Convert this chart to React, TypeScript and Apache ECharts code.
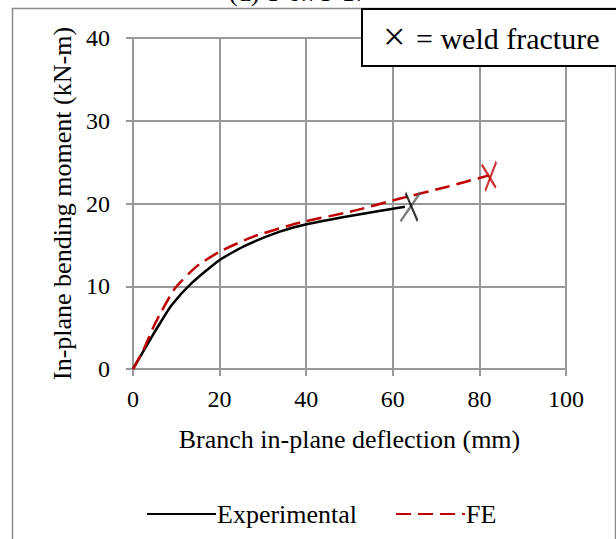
import React, { useEffect, useRef } from "react";
import * as echarts from "echarts";

// Branch in-plane deflection (mm) vs in-plane bending moment (kN-m)
const experimentalX = [0, 3.9, 6.2, 8.9, 13.6, 20.1, 26.3, 33.9, 40.1, 50.1, 62.8];
const experimentalY = [0, 3.5, 5.5, 7.7, 10.4, 13.2, 15.0, 16.6, 17.5, 18.5, 19.6];

const feX = [0, 2.4, 5.1, 9.7, 14.7, 20.1, 27.8, 38.6, 50.1, 61.7, 72.4, 82.2];
const feY = [0, 2.3, 5.5, 9.75, 12.4, 14.2, 16.0, 17.7, 19.0, 20.6, 22.0, 23.4];

// Weld fracture locations [deflection, moment]
const experimentalFracture = [64.1, 19.6];
const feFracture = [82.4, 23.3];

const xTicks = [0, 20, 40, 60, 80, 100];
const yTicks = [0, 10, 20, 30, 40];

const FONT = "Liberation Serif";
const GRID_COLOR = "#999999";
const RED = "#c00000";

const zip = (xs: number[], ys: number[]) => xs.map((x, i) => [x, ys[i]]);

export default function App() {
  const ref = useRef<HTMLDivElement>(null);

  useEffect(() => {
    if (!ref.current) return;
    const chart = echarts.init(ref.current, null, { renderer: "svg" });

    const axisCommon = {
      type: "value" as const,
      axisLine: { show: true, lineStyle: { color: GRID_COLOR, width: 2 } },
      axisTick: { show: true, inside: false, length: 7, lineStyle: { color: GRID_COLOR, width: 2 } },
      splitLine: { show: true, lineStyle: { color: GRID_COLOR, width: 2 } },
      nameLocation: "middle" as const,
      nameTextStyle: { fontFamily: FONT, fontSize: 26, color: "#000" },
    };

    const textBlock = (text: string, left: number, top: number, fontSize: number, z = 11) => ({
      text,
      left,
      top,
      padding: 0,
      z,
      textStyle: { fontFamily: FONT, fontSize, fontWeight: "normal", color: "#000" },
    });

    chart.setOption({
      animation: false,
      backgroundColor: "#fff",
      title: [
        textBlock("(d) T-6.75-17", 229, -21, 26, 2),
        textBlock("\u00d7", 383, 16, 40),
        textBlock("= weld fracture", 416, 23, 30),
      ],
      grid: { left: 133, right: 50, top: 38, bottom: 170, containLabel: false },
      xAxis: {
        ...axisCommon,
        min: xTicks[0],
        max: xTicks[xTicks.length - 1],
        interval: 20,
        name: "Branch in-plane deflection (mm)",
        nameGap: 57,
        axisLabel: { fontFamily: FONT, fontSize: 24, color: "#000", margin: 18 },
      },
      yAxis: {
        ...axisCommon,
        min: yTicks[0],
        max: yTicks[yTicks.length - 1],
        interval: 10,
        name: "In-plane bending moment (kN-m)",
        nameGap: 58,
        axisLabel: { fontFamily: FONT, fontSize: 24, color: "#000", margin: 23 },
      },
      legend: {
        data: ["Experimental", "FE"],
        left: 141,
        top: 496,
        itemWidth: 69,
        itemHeight: 14,
        itemGap: 38,
        itemStyle: { opacity: 0 },
        textStyle: { fontFamily: FONT, fontSize: 26, color: "#000", padding: [0, 0, 0, -4] },
      },
      series: [
        {
          name: "Experimental",
          type: "line",
          data: zip(experimentalX, experimentalY),
          symbol: "none",
          smooth: 0.2,
          lineStyle: { color: "#000", width: 2.5 },
          itemStyle: { color: "transparent" },
          z: 3,
        },
        {
          name: "FE",
          type: "line",
          data: zip(feX, feY),
          symbol: "none",
          smooth: 0.2,
          lineStyle: { color: RED, width: 2.5, type: [15, 7] },
          itemStyle: { color: "transparent" },
          z: 4,
        },
        // fracture markers: experimental (grey and black strokes), FE (red)
        {
          type: "scatter",
          data: [experimentalFracture],
          symbol: "path://M0,30L20,0",
          symbolSize: [20, 29],
          symbolOffset: [0, 0],
          itemStyle: { color: "transparent", borderColor: "#595959", borderWidth: 2.5 },
          silent: true,
          z: 5,
        },
        {
          type: "scatter",
          data: [experimentalFracture],
          symbol: "path://M0,0L12,28",
          symbolSize: [12, 28],
          symbolOffset: [1, 0],
          itemStyle: { color: "transparent", borderColor: "#000", borderWidth: 2.5 },
          silent: true,
          z: 5,
        },
        {
          type: "scatter",
          data: [feFracture],
          symbol: "path://M0,29L11,0",
          symbolSize: [11, 29],
          symbolOffset: [1, 0],
          itemStyle: { color: "transparent", borderColor: RED, borderWidth: 2.5 },
          silent: true,
          z: 5,
        },
        {
          type: "scatter",
          data: [feFracture],
          symbol: "path://M0,0L14,23",
          symbolSize: [14, 23],
          symbolOffset: [-1, 0],
          itemStyle: { color: "transparent", borderColor: RED, borderWidth: 2.5 },
          silent: true,
          z: 5,
        },
      ],
      graphic: [
        {
          type: "rect",
          shape: { x: 12.5, y: 8.5, width: 603, height: 600 },
          style: { fill: "none", stroke: "#8c8c8c", lineWidth: 1.5 },
          silent: true,
          z: 0,
        },
        {
          type: "rect",
          shape: { x: 362, y: 9, width: 260, height: 57 },
          style: { fill: "#fff", stroke: "#000", lineWidth: 2 },
          silent: true,
          z: 10,
        },
      ],
    });

    return () => chart.dispose();
  }, []);

  return (
    <div
      ref={ref}
      style={{ position: "absolute", left: 0, top: 0, width: 616, height: 539 }}
    />
  );
}
